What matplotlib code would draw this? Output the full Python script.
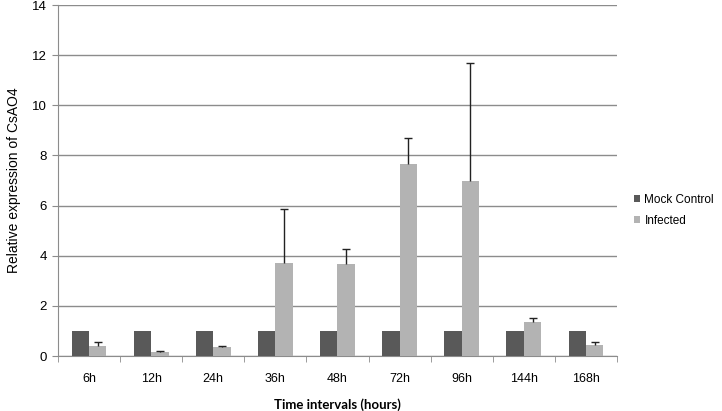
import matplotlib
matplotlib.use("Agg")
import matplotlib.pyplot as plt
import numpy as np

categories = ["6h", "12h", "24h", "36h", "48h", "72h", "96h", "144h", "168h"]
mock = [1, 1, 1, 1, 1, 1, 1, 1, 1]
infected = [0.40, 0.15, 0.35, 3.70, 3.65, 7.65, 7.00, 1.35, 0.45]
infected_err = [0.15, 0.05, 0.05, 2.15, 0.60, 1.05, 4.70, 0.15, 0.10]
yticks = [0, 2, 4, 6, 8, 10, 12, 14]

plt.rcParams['font.family'] = ['Liberation Sans', 'DejaVu Sans']

fig = plt.figure(figsize=(7.22, 4.11), dpi=100)
ax = fig.add_axes([0.0803, 0.1338, 0.7743, 0.854])

x = np.arange(len(categories))
w = 0.28
ax.bar(x - w/2, mock, w, color="#595959", label="Mock Control", zorder=3)
ax.bar(x + w/2, infected, w, color="#b3b3b3", label="Infected", zorder=3)
eb = ax.errorbar(x + w/2, infected, yerr=[np.zeros(len(infected)), infected_err],
                 fmt="none", ecolor="#222222", elinewidth=1, capsize=3, capthick=1, zorder=4)
# keep only the upper caps
caps = eb[1]
if len(caps) >= 2:
    caps[0].set_visible(False)

ax.set_xlim(-0.5, len(categories) - 0.5)
ax.set_ylim(0, 14)
ax.set_yticks(yticks)
ax.set_yticklabels([str(t) for t in yticks], fontsize=9.5)
ax.yaxis.grid(True, color="#8c8c8c", linewidth=1)
ax.set_axisbelow(True)

ax.set_xticks(x)
ax.set_xticklabels(categories, fontsize=9)
ax.tick_params(axis="x", which="major", length=0, pad=12)
ax.set_xticks(np.arange(-0.5, len(categories)), minor=True)
ax.tick_params(axis="x", which="minor", length=4, color="#8c8c8c", direction="out")
ax.tick_params(axis="y", length=4, color="#8c8c8c", direction="out", pad=4)

for s in ["top", "right"]:
    ax.spines[s].set_visible(False)
for s in ["left", "bottom"]:
    ax.spines[s].set_color("#8c8c8c")

ax.set_ylabel("Relative expression of CsAO4", fontsize=10, labelpad=8)
ax.set_xlabel("Time intervals (hours)", fontsize=9.5, fontweight="bold",
              family=["Lato", "DejaVu Sans"], labelpad=10)

ax.legend(loc="center left", bbox_to_anchor=(1.03, 0.415), frameon=False, fontsize=8.5,
          borderpad=0, borderaxespad=0,
          handlelength=0.55, handleheight=0.55, handletextpad=0.35, labelspacing=0.8)

fig.savefig("out.png", dpi=100)
